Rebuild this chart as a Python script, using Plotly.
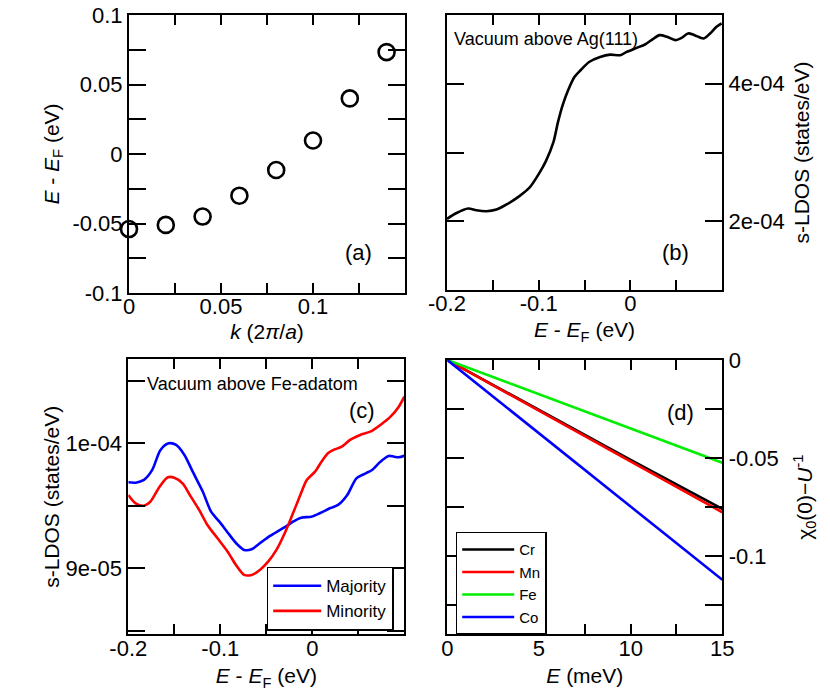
import plotly.graph_objects as go

# ---------------- data ----------------
# (a) dispersion
k_vals = [0.0, 0.02, 0.04, 0.06, 0.08, 0.10, 0.12, 0.14]
e_vals = [-0.054, -0.051, -0.045, -0.030, -0.0115, 0.0097, 0.040, 0.0733]

# (b) vacuum above Ag(111)
ag_e = [-0.2, -0.1895, -0.177, -0.168, -0.157, -0.146, -0.135, -0.121, -0.110, -0.099,
        -0.092, -0.084, -0.079, -0.074, -0.068, -0.061, -0.054, -0.045, -0.033, -0.022,
        -0.011, -0.004, 0.007, 0.016, 0.023, 0.032, 0.040, 0.049, 0.056, 0.063,
        0.070, 0.080, 0.087, 0.094, 0.0996]
ag_ldos = [2.034e-4, 2.12e-4, 2.185e-4, 2.16e-4, 2.146e-4, 2.17e-4, 2.244e-4, 2.366e-4, 2.488e-4, 2.707e-4,
           2.878e-4, 3.146e-4, 3.439e-4, 3.683e-4, 3.902e-4, 4.098e-4, 4.20e-4, 4.317e-4, 4.39e-4, 4.424e-4,
           4.415e-4, 4.463e-4, 4.522e-4, 4.571e-4, 4.634e-4, 4.707e-4, 4.683e-4, 4.634e-4, 4.668e-4, 4.732e-4,
           4.707e-4, 4.659e-4, 4.732e-4, 4.829e-4, 4.878e-4]

# (c) vacuum above Fe adatom
maj_e = [-0.2, -0.192, -0.183, -0.174, -0.165, -0.156, -0.148, -0.139, -0.130, -0.119,
         -0.110, -0.101, -0.090, -0.081, -0.074, -0.066, -0.057, -0.046, -0.035, -0.026,
         -0.021, -0.012, -0.001, 0.008, 0.019, 0.028, 0.038, 0.048, 0.058, 0.065,
         0.074, 0.083, 0.089, 0.094, 0.1]
maj_ldos = [9.688e-5, 9.685e-5, 9.707e-5, 9.787e-5, 9.947e-5, 10.0e-5, 9.987e-5, 9.907e-5, 9.773e-5, 9.613e-5,
            9.453e-5, 9.373e-5, 9.267e-5, 9.187e-5, 9.147e-5, 9.152e-5, 9.20e-5, 9.259e-5, 9.307e-5, 9.347e-5,
            9.373e-5, 9.405e-5, 9.413e-5, 9.44e-5, 9.48e-5, 9.507e-5, 9.587e-5, 9.72e-5, 9.76e-5, 9.787e-5,
            9.853e-5, 9.899e-5, 9.893e-5, 9.888e-5, 9.901e-5]
min_e = [-0.2, -0.192, -0.183, -0.176, -0.166, -0.157, -0.150, -0.141, -0.132, -0.123,
         -0.114, -0.103, -0.092, -0.083, -0.074, -0.066, -0.057, -0.048, -0.039, -0.030,
         -0.021, -0.013, -0.006, 0.003, 0.010, 0.017, 0.023, 0.032, 0.041, 0.052,
         0.063, 0.074, 0.085, 0.094, 0.1]
min_ldos = [9.587e-5, 9.52e-5, 9.501e-5, 9.533e-5, 9.653e-5, 9.728e-5, 9.725e-5, 9.68e-5, 9.573e-5, 9.467e-5,
            9.347e-5, 9.24e-5, 9.133e-5, 9.027e-5, 8.947e-5, 8.947e-5, 8.987e-5, 9.053e-5, 9.147e-5, 9.28e-5,
            9.44e-5, 9.587e-5, 9.707e-5, 9.773e-5, 9.853e-5, 9.92e-5, 9.947e-5, 9.973e-5, 10.027e-5, 10.067e-5,
            10.093e-5, 10.147e-5, 10.213e-5, 10.293e-5, 10.373e-5]

# (d) chi_0(0) - U^-1 vs E
d_energy = [0, 5, 10, 15]
d_series = {
    "Cr": ([0, -0.0256, -0.0510, -0.0760], "black"),
    "Mn": ([0, -0.0259, -0.0518, -0.0777], "#ff0000"),
    "Fe": ([0, -0.0175, -0.0350, -0.0524], "#00ee00"),
    "Co": ([0, -0.0374, -0.0748, -0.1122], "#0000ff"),
}

# tick definitions
a_xticks = [0, 0.025, 0.05, 0.075, 0.1, 0.125, 0.15]
a_xtext = ["0", "", "0.05", "", "0.1", "", ""]
a_yticks = [-0.1, -0.075, -0.05, -0.025, 0, 0.025, 0.05, 0.075, 0.1]
a_ytext = ["-0.1", "", "-0.05", "", "0", "", "0.05", "", "0.1"]
e_ticks = [-0.2, -0.15, -0.1, -0.05, 0, 0.05, 0.1]
e_text = ["-0.2", "", "-0.1", "", "0", "", ""]
b_yticks = [1e-4, 2e-4, 3e-4, 4e-4, 5e-4]
b_ytext = ["", "2e-04", "", "4e-04", ""]
c_yticks = [8.5e-5, 9e-5, 9.5e-5, 1e-4, 1.05e-4]
c_ytext = ["", "9e-05", "", "1e-04", ""]
d_xticks = [0, 2.5, 5, 7.5, 10, 12.5, 15]
d_xtext = ["0", "", "5", "", "10", "", "15"]
d_yticks = [0, -0.025, -0.05, -0.075, -0.1, -0.125]
d_ytext = ["0", "", "-0.05", "", "-0.1", ""]

FONT = "Liberation Sans, Arial, sans-serif"
W, H = 830, 695
OFF = 8  # page body margin in the screenshot

fig = go.Figure()

fig.add_trace(go.Scatter(x=k_vals, y=e_vals, mode="markers", xaxis="x", yaxis="y",
                         marker=dict(symbol="circle-open", size=16, color="black", line=dict(width=2.6)),
                         showlegend=False, cliponaxis=False))
fig.add_trace(go.Scatter(x=ag_e, y=ag_ldos, mode="lines", xaxis="x2", yaxis="y2",
                         line=dict(color="black", width=2.6, shape="spline", smoothing=0.8),
                         showlegend=False))
fig.add_trace(go.Scatter(x=maj_e, y=maj_ldos, mode="lines", xaxis="x3", yaxis="y3", name="Majority",
                         line=dict(color="#0000ff", width=2.6, shape="spline", smoothing=0.8),
                         legend="legend"))
fig.add_trace(go.Scatter(x=min_e, y=min_ldos, mode="lines", xaxis="x3", yaxis="y3", name="Minority",
                         line=dict(color="#ff0000", width=2.6, shape="spline", smoothing=0.8),
                         legend="legend"))
for name, (vals, col) in d_series.items():
    fig.add_trace(go.Scatter(x=d_energy, y=vals, mode="lines", xaxis="x4", yaxis="y4", name=name,
                             line=dict(color=col, width=2.6), legend="legend2"))


def axis(domain, rng, tickvals, ticktext, ticklen, anchor, **kw):
    d = dict(domain=domain, range=rng, tickvals=tickvals, ticktext=ticktext, ticklen=ticklen,
             anchor=anchor, showline=True, linecolor="black", linewidth=2, mirror="ticks",
             ticks="inside", tickcolor="black", tickwidth=1.5, showgrid=False, zeroline=False,
             automargin=False, ticklabeloverflow="allow",
             tickfont=dict(size=22, color="black", family=FONT),
             title_font=dict(size=21, color="black", family=FONT))
    d.update(kw)
    return d


def px_x(p):
    return (p - OFF) / W


def px_y(p):
    return 1 - (p - OFF) / H


fig.update_layout(
    width=W, height=H,
    margin=dict(l=0, r=0, t=0, b=0, autoexpand=False),
    paper_bgcolor="white", plot_bgcolor="white",
    font=dict(family=FONT, color="black"),
    xaxis=axis([px_x(129), px_x(405)], [0, 0.15], a_xticks, a_xtext, 10, "y",
               ticklabelstandoff=-7,
               title=dict(text="<i>k</i> (2<i>π</i>/<i>a</i>)", standoff=6)),
    yaxis=axis([px_y(293), px_y(15)], [-0.1, 0.1], a_yticks, a_ytext, 17, "x",
               title=dict(text="<i>E</i> - <i>E</i><sub>F</sub> (eV)", standoff=7)),
    xaxis2=axis([px_x(447), px_x(722)], [-0.2, 0.1], e_ticks, e_text, 10, "y2",
                ticklabelstandoff=-7,
                title=dict(text="<i>E</i> - <i>E</i><sub>F</sub> (eV)", standoff=7)),
    yaxis2=axis([px_y(290), px_y(15)], [1e-4, 5e-4], b_yticks, b_ytext, 17, "x2", side="right",
                title=dict(text="s-LDOS (states/eV)", standoff=11)),
    xaxis3=axis([px_x(128.3), px_x(404.3)], [-0.2, 0.1], e_ticks, e_text, 10, "y3",
                ticklabelstandoff=-7,
                title=dict(text="<i>E</i> - <i>E</i><sub>F</sub> (eV)", standoff=9)),
    yaxis3=axis([px_y(634.3), px_y(359.3)], [8.472e-5, 1.0672e-4], c_yticks, c_ytext, 17, "x3",
                title=dict(text="s-LDOS (states/eV)", standoff=0)),
    xaxis4=axis([px_x(447.3), px_x(722.3)], [0, 15], d_xticks, d_xtext, 10, "y4",
                ticklabelstandoff=-7,
                title=dict(text="<i>E</i> (meV)", standoff=9)),
    yaxis4=axis([px_y(634.3), px_y(360)], [-0.14, 0], d_yticks, d_ytext, 17, "x4", side="right",
                title=dict(text="χ<sub>0</sub>(0)−<i>U</i><sup>-1</sup>", standoff=19)),
    legend=dict(x=px_x(266.7), y=px_y(566.7), xanchor="left", yanchor="top",
                bgcolor="white", bordercolor="black", borderwidth=1.5,
                font=dict(size=17, color="black", family=FONT), itemwidth=48, tracegroupgap=0),
    legend2=dict(x=px_x(455.7), y=px_y(531.7), xanchor="left", yanchor="top",
                 bgcolor="white", bordercolor="black", borderwidth=1.5,
                 font=dict(size=15, color="black", family=FONT), itemwidth=52, tracegroupgap=0),
)

annots = [
    ("(a)", 358, 252, 22, "center"),
    ("(b)", 675, 252, 22, "center"),
    ("(c)", 362, 410, 22, "center"),
    ("(d)", 680, 412, 22, "center"),
    ("Vacuum above Ag(111)", 452, 39, 18, "left"),
    ("Vacuum above Fe-adatom", 145, 384, 18, "left"),
]
for txt, x, y, size, anchor in annots:
    fig.add_annotation(text=txt, x=px_x(x), y=px_y(y), xref="paper", yref="paper",
                       xanchor=anchor, yanchor="middle", showarrow=False,
                       font=dict(size=size, color="black", family=FONT))

fig.write_html("out.html")
